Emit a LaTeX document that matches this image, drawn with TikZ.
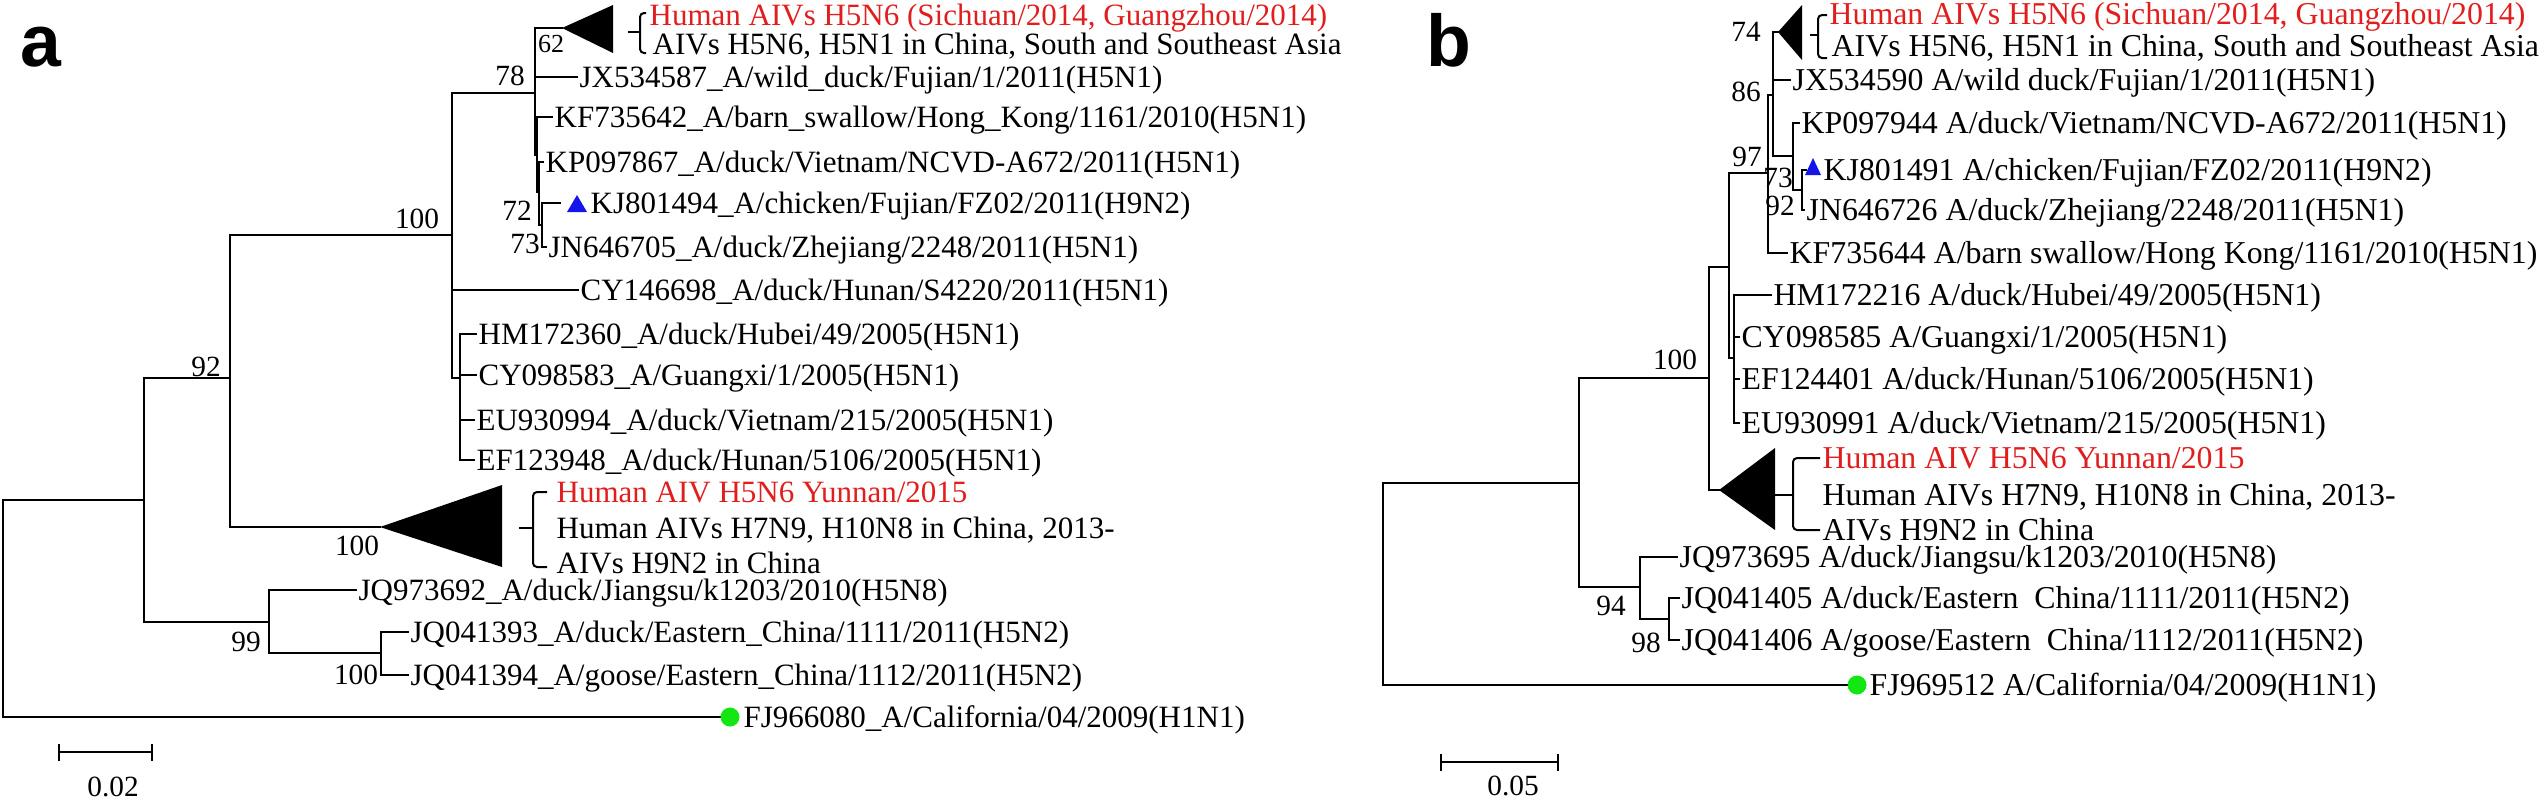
\documentclass[tikz,border=0pt]{standalone}
\usepackage{fontspec}
\setmainfont{Liberation Serif}
\newfontfamily\panelfont{Liberation Sans}
\definecolor{lred}{RGB}{225,30,30}
\definecolor{lblue}{RGB}{20,20,235}
\definecolor{lgreen}{RGB}{20,230,20}
\newcommand{\tfa}{\fontsize{9.3}{11}\selectfont}
\newcommand{\tfb}{\fontsize{9.55}{11}\selectfont}
\newcommand{\tfs}{\fontsize{8.8}{10}\selectfont}
\begin{document}
\begin{tikzpicture}[x=0.3pt,y=-0.3pt,
 br/.style={line width=0.7pt, line cap=rect},
 tipa/.style={anchor=base west, inner sep=0pt, yshift=-3.1pt, xshift=0.6pt, font=\tfa},
 tipb/.style={anchor=base west, inner sep=0pt, yshift=-3.2pt, xshift=0.6pt, font=\tfb},
 bs/.style={inner sep=0pt, font=\tfs},
 brace/.style={line width=0.6pt, rounded corners=1.2pt},
 panel/.style={font=\panelfont\bfseries\fontsize{22}{22}\selectfont, inner sep=0pt, anchor=base west},
 dot/.style={circle, fill=lgreen, inner sep=0pt, minimum size=5.6pt},
]
\useasboundingbox (0,0) rectangle (2547,800);

% ================= panel a =================
\node[panel] (la) at (20,66) {a};
\coordinate (ra) at (3,609);
\coordinate (na) at (144,500);
\coordinate (n92) at (230,378);
\coordinate (n100) at (452,235);
\coordinate (n78) at (535,93);
\coordinate (ns) at (537,155);
\coordinate (ns2) at (539,192);
\coordinate (nt) at (542,225);
\coordinate (nhm) at (460,378);
\coordinate (n99) at (269,622);
\coordinate (nq) at (381,653);

\coordinate (ata) at (562,28);
\coordinate (atb) at (380,527);
\path (577,77) coordinate (ajx) node[tipa] (ajxl) {JX534587\_A/wild\_duck/Fujian/1/2011(H5N1)};
\path (552,117) coordinate (akf) node[tipa] (akfl) {KF735642\_A/barn\_swallow/Hong\_Kong/1161/2010(H5N1)};
\path (543,162) coordinate (akp) node[tipa] (akpl) {KP097867\_A/duck/Vietnam/NCVD-A672/2011(H5N1)};
\coordinate (akj) at (560,203);
\path (588,203) node[tipa] (akjl) {KJ801494\_A/chicken/Fujian/FZ02/2011(H9N2)};
\path (546,247) coordinate (ajn) node[tipa] (ajnl) {JN646705\_A/duck/Zhejiang/2248/2011(H5N1)};
\path (578,290) coordinate (acy1) node[tipa] (acy1l) {CY146698\_A/duck/Hunan/S4220/2011(H5N1)};
\path (476,334) coordinate (ahm) node[tipa] (ahml) {HM172360\_A/duck/Hubei/49/2005(H5N1)};
\path (476,375) coordinate (acy2) node[tipa] (acy2l) {CY098583\_A/Guangxi/1/2005(H5N1)};
\path (474,420) coordinate (aeu) node[tipa] (aeul) {EU930994\_A/duck/Vietnam/215/2005(H5N1)};
\path (474,460) coordinate (aef) node[tipa] (aefl) {EF123948\_A/duck/Hunan/5106/2005(H5N1)};
\path (356,590) coordinate (ajq1) node[tipa] (ajq1l) {JQ973692\_A/duck/Jiangsu/k1203/2010(H5N8)};
\path (408,632) coordinate (ajq2) node[tipa] (ajq2l) {JQ041393\_A/duck/Eastern\_China/1111/2011(H5N2)};
\path (408,675) coordinate (ajq3) node[tipa] (ajq3l) {JQ041394\_A/goose/Eastern\_China/1112/2011(H5N2)};
\node[dot] (adot) at (730,717) {};
\path (741,717) node[tipa] (aogl) {FJ966080\_A/California/04/2009(H1N1)};

% collapsed clade labels
\path (647,15) node[tipa, text=lred] (ac1) {Human AIVs H5N6 (Sichuan/2014, Guangzhou/2014)};
\path (650,44) node[tipa] (ac2) {AIVs H5N6, H5N1 in China, South and Southeast Asia};
\path (554,492) node[tipa, text=lred] (ac3) {Human AIV H5N6 Yunnan/2015};
\path (554,528) node[tipa] (ac4) {Human AIVs H7N9, H10N8 in China, 2013-};
\path (554,563) node[tipa] (ac5) {AIVs H9N2 in China};

% branches
\draw[br] (ra) |- (na);
\draw[br] (ra) |- (adot);
\draw[br] (na) |- (n92);
\draw[br] (na) |- (n99);
\draw[br] (n92) |- (n100);
\draw[br] (n92) |- (atb);
\draw[br] (n100) |- (n78);
\draw[br] (n100) |- (acy1);
\draw[br] (n100) |- (nhm);
\draw[br] (n78) |- (ata);
\draw[br] (n78) |- (ajx);
\draw[br] (n78) |- (ns);
\draw[br] (ns) |- (akf);
\draw[br] (ns) |- (ns2);
\draw[br] (ns2) |- (akp);
\draw[br] (ns2) |- (nt);
\draw[br] (nt) |- (akj);
\draw[br] (nt) |- (ajn);
\draw[br] (nhm) |- (ahm);
\draw[br] (nhm) |- (acy2);
\draw[br] (nhm) |- (aeu);
\draw[br] (nhm) |- (aef);
\draw[br] (n99) |- (ajq1);
\draw[br] (n99) |- (nq);
\draw[br] (nq) |- (ajq2);
\draw[br] (nq) |- (ajq3);
\node[dot] at (adot) {};

% collapsed triangles, markers, braces
\fill (ata) -- (613,5) -- (613,53) -- cycle;
\fill (atb) -- (502,485) -- (502,567) -- cycle;
\fill[lblue] (577,195) -- (587,212) -- (567,212) -- cycle;
\draw[brace] (646,13) -- (640,13) -- (640,53) -- (646,53);
\draw[brace] (628,32) -- (640,32);
\draw[brace] (547,492) -- (533,492) -- (533,567) -- (547,567);
\draw[brace] (519,528) -- (533,528);

% bootstrap values
\node[bs, font=\fontsize{7.8}{9}\selectfont] (a62) at (551,44) {62};
\node[bs] (a78) at (510,76) {78};
\node[bs] (a72) at (517,211) {72};
\node[bs] (a73) at (525,244) {73};
\node[bs] (a100a) at (417,219) {100};
\node[bs] (a92) at (206,367) {92};
\node[bs] (a100b) at (357,546) {100};
\node[bs] (a99) at (246,642) {99};
\node[bs] (a100c) at (356,675) {100};

% scale bar
\coordinate (asl) at (59,752);
\coordinate (asr) at (152,752);
\draw[br] (asl) -- (asr);
\draw[br] ([yshift=2.2pt]asl) -- ([yshift=-2.2pt]asl);
\draw[br] ([yshift=2.2pt]asr) -- ([yshift=-2.2pt]asr);
\node[bs] (ascl) at (113,787) {0.02};

% ================= panel b =================
\node[panel] (lb) at (1426,66) {b};
\coordinate (rb) at (1383,583);
\coordinate (nb) at (1579,483);
\coordinate (m100) at (1709,378);
\coordinate (mc) at (1729,267);
\coordinate (m97) at (1768,173);
\coordinate (m86) at (1773,95);
\coordinate (mkp) at (1793,156);
\coordinate (mkj) at (1802,190);
\coordinate (mhm) at (1734,358);
\coordinate (m94) at (1640,587);
\coordinate (m98) at (1669,619);

\coordinate (bta) at (1778,32);
\coordinate (btb) at (1719,490);
\path (1790,80) coordinate (bjx) node[tipb] (bjxl) {JX534590 A/wild duck/Fujian/1/2011(H5N1)};
\path (1799,123) coordinate (bkp) node[tipb] (bkpl) {KP097944 A/duck/Vietnam/NCVD-A672/2011(H5N1)};
\coordinate (bkj) at (1806,170);
\path (1821,170) node[tipb] (bkjl) {KJ801491 A/chicken/Fujian/FZ02/2011(H9N2)};
\path (1804,210) coordinate (bjn) node[tipb] (bjnl) {JN646726 A/duck/Zhejiang/2248/2011(H5N1)};
\path (1787,253) coordinate (bkf) node[tipb] (bkfl) {KF735644 A/barn swallow/Hong Kong/1161/2010(H5N1)};
\path (1771,295) coordinate (bhm) node[tipb] (bhml) {HM172216 A/duck/Hubei/49/2005(H5N1)};
\path (1739,337) coordinate (bcy) node[tipb] (bcyl) {CY098585 A/Guangxi/1/2005(H5N1)};
\path (1739,379) coordinate (bef) node[tipb] (befl) {EF124401 A/duck/Hunan/5106/2005(H5N1)};
\path (1739,423) coordinate (beu) node[tipb] (beul) {EU930991 A/duck/Vietnam/215/2005(H5N1)};
\path (1677,557) coordinate (bjq1) node[tipb] (bjq1l) {JQ973695 A/duck/Jiangsu/k1203/2010(H5N8)};
\path (1679,598) coordinate (bjq2) node[tipb] (bjq2l) {JQ041405 A/duck/Eastern\ \ China/1111/2011(H5N2)};
\path (1679,640) coordinate (bjq3) node[tipb] (bjq3l) {JQ041406 A/goose/Eastern\ \ China/1112/2011(H5N2)};
\node[dot] (bdot) at (1857,685) {};
\path (1867,685) node[tipb] (bogl) {FJ969512 A/California/04/2009(H1N1)};

\path (1827,14) node[tipb, text=lred] (bc1) {Human AIVs H5N6 (Sichuan/2014, Guangzhou/2014)};
\path (1829,46) node[tipb] (bc2) {AIVs H5N6, H5N1 in China, South and Southeast Asia};
\path (1820,458) node[tipb, text=lred] (bc3) {Human AIV H5N6 Yunnan/2015};
\path (1820,495) node[tipb] (bc4) {Human AIVs H7N9, H10N8 in China, 2013-};
\path (1820,530) node[tipb] (bc5) {AIVs H9N2 in China};

\draw[br] (rb) |- (nb);
\draw[br] (rb) |- (bdot);
\draw[br] (nb) |- (m100);
\draw[br] (nb) |- (m94);
\draw[br] (m100) |- (mc);
\draw[br] (m100) |- (btb);
\draw[br] (mc) |- (m97);
\draw[br] (mc) |- (mhm);
\draw[br] (m97) |- (m86);
\draw[br] (m97) |- (bkf);
\draw[br] (m86) |- (bta);
\draw[br] (m86) |- (bjx);
\draw[br] (m86) |- (mkp);
\draw[br] (mkp) |- (bkp);
\draw[br] (mkp) |- (mkj);
\draw[br] (mkj) |- (bkj);
\draw[br] (mkj) |- (bjn);
\draw[br] (mhm) |- (bhm);
\draw[br] (mhm) |- (bcy);
\draw[br] (mhm) |- (bef);
\draw[br] (mhm) |- (beu);
\draw[br] (m94) |- (bjq1);
\draw[br] (m94) |- (m98);
\draw[br] (m98) |- (bjq2);
\draw[br] (m98) |- (bjq3);
\node[dot] at (bdot) {};

\fill (bta) -- (1802,5) -- (1802,60) -- cycle;
\fill (btb) -- (1775,448) -- (1775,530) -- cycle;
\fill[lblue] (1813,158) -- (1821,175) -- (1805,175) -- cycle;
\draw[brace] (1827,15) -- (1818,15) -- (1818,58) -- (1827,58);
\draw[brace] (1810,35) -- (1818,35);
\draw[brace] (1820,458) -- (1793,458) -- (1793,530) -- (1820,530);
\draw[brace] (1775,495) -- (1793,495);

\node[bs] (b74) at (1746,32) {74};
\node[bs] (b86) at (1746,92) {86};
\node[bs] (b97) at (1747,157) {97};
\node[bs] (b73) at (1778,178) {73};
\node[bs] (b92) at (1780,206) {92};
\node[bs] (b100) at (1675,360) {100};
\node[bs] (b94) at (1611,606) {94};
\node[bs] (b98) at (1646,643) {98};

\coordinate (bsl) at (1441,762);
\coordinate (bsr) at (1558,762);
\draw[br] (bsl) -- (bsr);
\draw[br] ([yshift=2.2pt]bsl) -- ([yshift=-2.2pt]bsl);
\draw[br] ([yshift=2.2pt]bsr) -- ([yshift=-2.2pt]bsr);
\node[bs] (bscl) at (1513,786) {0.05};
\end{tikzpicture}
\end{document}
